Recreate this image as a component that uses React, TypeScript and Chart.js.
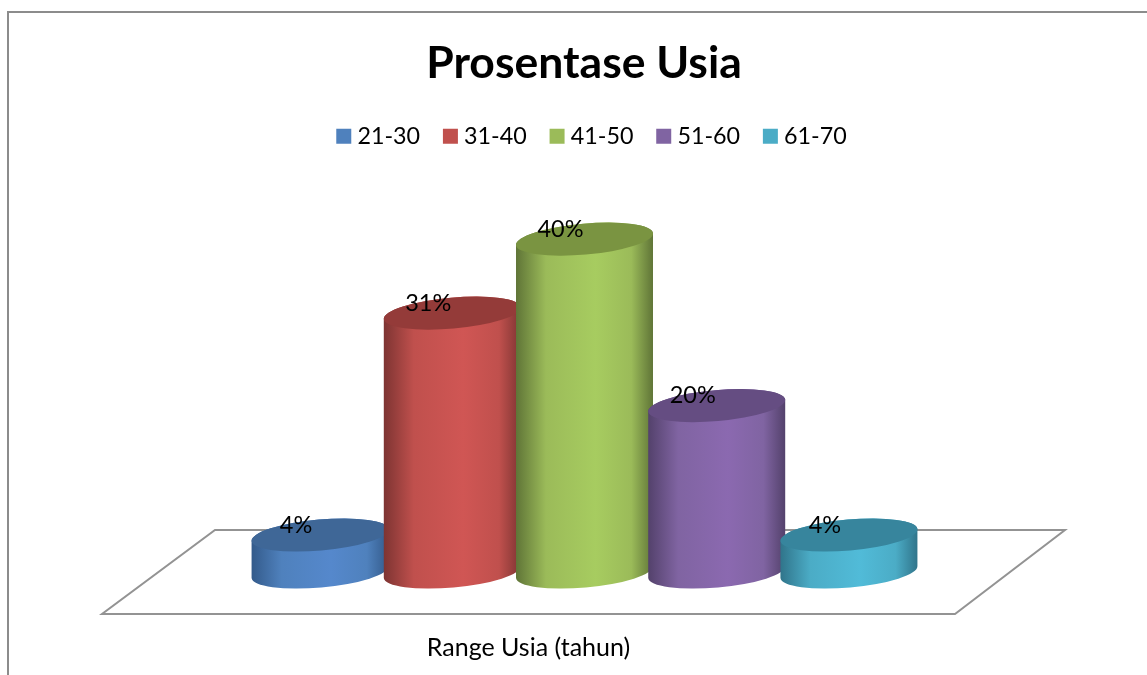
import React, { useEffect, useRef } from "react";
import { Chart, registerables } from "chart.js";

Chart.register(...registerables);

const ageRanges = ["21-30", "31-40", "41-50", "51-60", "61-70"];
const percentages = [4.44, 31.11, 40, 20, 4.44];
const percentLabels = ["4%", "31%", "40%", "20%", "4%"];
const legendColors = ["#4f81bd", "#c0504d", "#9bbb59", "#8064a2", "#4bacc6"];
const lightColors = ["#5588cc", "#d05654", "#a7cc60", "#8b69b0", "#51bbd8"];
const darkColors = ["#335a8a", "#7d3432", "#5f7437", "#53416b", "#30748a"];
const capColors = ["#3f6797", "#943b39", "#7a9441", "#654d82", "#37859d"];

const FONT = "Lato, Carlito, 'Open Sans', sans-serif";
const FRAME = "#8c8c8c";

const depthX = 56;
const depthY = 42;
const floorBackLeft = 113;
const floorBackRight = 110;
const floorBackRise = 84;
const tilt = (-5 * Math.PI) / 180;
const capRy = 15.5;

const cylinderPlugin = {
  id: "cylinders",
  afterLayout(chart: any) {
    const shift = (box: any, dx: number) => {
      if (!box) return;
      box.left += dx;
      box.right += dx;
    };
    shift(chart.titleBlock, 55.5);
    shift(chart.legend, 65.75);
  },
  beforeDraw(chart: any) {
    const { ctx, width, height } = chart;
    ctx.save();
    ctx.strokeStyle = FRAME;
    ctx.lineWidth = 2;
    ctx.beginPath();
    ctx.moveTo(8, height);
    ctx.lineTo(8, 12);
    ctx.lineTo(width, 12);
    ctx.stroke();
    ctx.restore();
  },
  beforeDatasetsDraw(chart: any) {
    const { ctx, chartArea: a } = chart;
    ctx.save();
    ctx.strokeStyle = "#939393";
    ctx.lineWidth = 2;
    ctx.fillStyle = "#ffffff";
    ctx.beginPath();
    ctx.moveTo(a.left, a.bottom);
    ctx.lineTo(a.right, a.bottom);
    ctx.lineTo(a.right + floorBackRight, a.bottom - floorBackRise);
    ctx.lineTo(a.left + floorBackLeft, a.bottom - floorBackRise);
    ctx.closePath();
    ctx.fill();
    ctx.stroke();
    ctx.restore();
  },
  beforeDatasetDraw() {
    return false;
  },
  afterDatasetsDraw(chart: any) {
    const { ctx } = chart;
    percentages.forEach((_, i) => {
      const bar = chart.getDatasetMeta(i).data[0];
      const cx = bar.x + depthX;
      const top = bar.y - depthY;
      const base = bar.base - depthY;
      const rx = bar.width * 0.52;
      const grad = ctx.createLinearGradient(cx - rx, 0, cx + rx, 0);
      grad.addColorStop(0, darkColors[i]);
      grad.addColorStop(0.22, legendColors[i]);
      grad.addColorStop(0.58, lightColors[i]);
      grad.addColorStop(0.84, legendColors[i]);
      grad.addColorStop(1, darkColors[i]);
      ctx.save();
      ctx.fillStyle = grad;
      ctx.beginPath();
      ctx.ellipse(cx, base, rx, capRy, tilt, 0, Math.PI);
      ctx.ellipse(cx, top, rx, capRy, tilt, Math.PI, Math.PI * 2);
      ctx.closePath();
      ctx.fill();
      ctx.fillStyle = capColors[i];
      ctx.beginPath();
      ctx.ellipse(cx, top, rx, capRy, tilt, 0, Math.PI * 2);
      ctx.fill();
      ctx.restore();
    });
    percentages.forEach((_, i) => {
      const bar = chart.getDatasetMeta(i).data[0];
      ctx.save();
      ctx.fillStyle = "#000000";
      ctx.font = `23.5px ${FONT}`;
      ctx.textAlign = "center";
      ctx.textBaseline = "middle";
      ctx.fillText(percentLabels[i], bar.x + depthX - 24, bar.y - depthY - 10);
      ctx.restore();
    });
  },
};

export default function App() {
  const ref = useRef<HTMLCanvasElement | null>(null);
  useEffect(() => {
    const chart = new Chart(ref.current as HTMLCanvasElement, {
      type: "bar",
      data: {
        labels: [""],
        datasets: ageRanges.map((label, i) => ({
          label,
          data: [percentages[i]],
          backgroundColor: legendColors[i],
          borderWidth: 0,
        })),
      },
      plugins: [cylinderPlugin],
      options: {
        responsive: false,
        animation: false,
        categoryPercentage: 0.775,
        barPercentage: 1,
        layout: { padding: { left: 102, right: 192, top: 0, bottom: 0 } },
        plugins: {
          tooltip: { enabled: false },
          title: {
            display: true,
            text: "Prosentase Usia",
            color: "#000000",
            font: { family: FONT, size: 44.5, weight: "bold" },
            padding: { top: 37, bottom: 6 },
          },
          legend: {
            display: true,
            position: "top",
            labels: {
              usePointStyle: true,
              pointStyle: "rect",
              boxWidth: 4,
              boxHeight: 15,
              padding: 28.3,
              color: "#000000",
              font: { family: FONT, size: 23.3 },
            },
          },
        },
        scales: {
          x: {
            display: true,
            grid: { display: false },
            border: { display: false },
            ticks: { display: false },
            title: {
              display: true,
              text: "Range Usia (tahun)",
              color: "#000000",
              font: { family: FONT, size: 25 },
              padding: { top: 0, bottom: 12 },
            },
            afterFit(scale: any) {
              scale.height = 61;
            },
          },
          y: {
            display: false,
            min: 0,
            max: 54.8,
          },
        },
      },
    } as any);
    return () => chart.destroy();
  }, []);
  return (
    <div style={{ position: "fixed", left: 0, top: 0, width: 1147, height: 675, overflow: "hidden", background: "#fff" }}>
      <canvas ref={ref} width={1147} height={675} style={{ display: "block" }} />
    </div>
  );
}
